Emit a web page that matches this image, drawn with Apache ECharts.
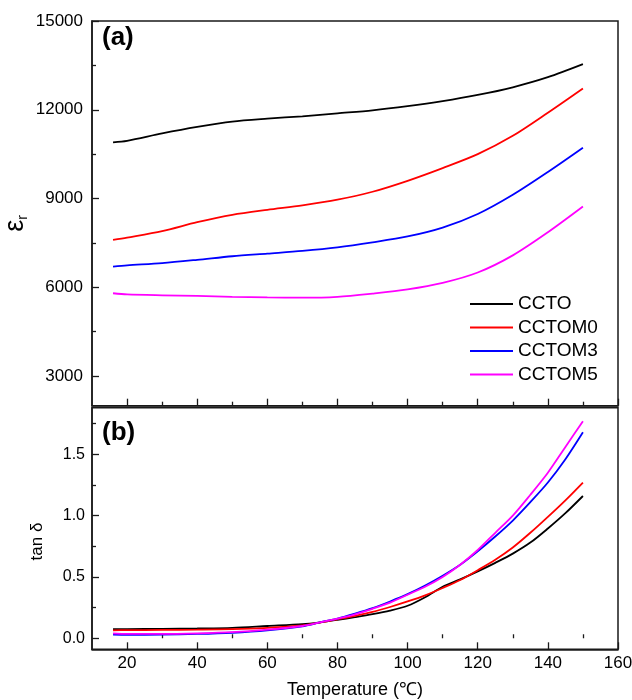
<!DOCTYPE html>
<html>
<head>
<meta charset="utf-8">
<script src="https://cdn.jsdelivr.net/npm/echarts@6/dist/echarts.min.js"></script>
<style>
  html, body { margin: 0; padding: 0; background: #fff; }
  #chart { width: 632px; height: 700px; }
</style>
</head>
<body>
<div id="chart"></div>
<script>
// Dielectric constant (a) and loss tangent (b) versus temperature
const seriesNames = ['CCTO', 'CCTOM0', 'CCTOM3', 'CCTOM5'];
const seriesColors = ['#000000', '#ff0000', '#0000ff', '#ff00ff'];

// Panel (a): relative permittivity
const tempA = [16, 20, 30, 40, 50, 60, 70, 80, 90, 100, 110, 120, 130, 140, 150];
const epsCCTO   = [10900, 10950, 11200, 11420, 11600, 11700, 11780, 11880, 11980, 12120, 12290, 12500, 12760, 13100, 13540];
const epsCCTOM0 = [7600, 7680, 7900, 8200, 8450, 8620, 8770, 8960, 9230, 9600, 10030, 10500, 11120, 11900, 12720];
const epsCCTOM3 = [6700, 6740, 6820, 6930, 7050, 7140, 7230, 7350, 7520, 7720, 8020, 8480, 9130, 9900, 10720];
const epsCCTOM5 = [5800, 5760, 5730, 5710, 5680, 5660, 5650, 5680, 5790, 5930, 6150, 6500, 7080, 7860, 8730];

// Panel (b): loss tangent
const tempB = [16, 20, 30, 40, 50, 60, 70, 75, 80, 85, 90, 95, 100, 105, 110, 115, 120, 125, 130, 135, 140, 145, 150];
const tanCCTO   = [0.075, 0.075, 0.077, 0.080, 0.085, 0.100, 0.115, 0.130, 0.150, 0.172, 0.196, 0.225, 0.265, 0.335, 0.420, 0.480, 0.545, 0.615, 0.690, 0.780, 0.895, 1.020, 1.160];
const tanCCTOM0 = [0.065, 0.066, 0.068, 0.070, 0.074, 0.085, 0.105, 0.128, 0.155, 0.183, 0.215, 0.255, 0.300, 0.350, 0.410, 0.475, 0.555, 0.640, 0.740, 0.860, 0.990, 1.125, 1.270];
const tanCCTOM3 = [0.030, 0.028, 0.030, 0.035, 0.045, 0.065, 0.098, 0.130, 0.160, 0.200, 0.245, 0.300, 0.360, 0.430, 0.510, 0.600, 0.710, 0.830, 0.960, 1.110, 1.270, 1.460, 1.680];
const tanCCTOM5 = [0.040, 0.035, 0.035, 0.040, 0.050, 0.070, 0.100, 0.130, 0.160, 0.195, 0.240, 0.290, 0.355, 0.420, 0.500, 0.600, 0.720, 0.860, 1.000, 1.170, 1.350, 1.560, 1.770];

// Tick positions
const xMajor = [20, 40, 60, 80, 100, 120, 140, 160];
const xMinor = [30, 50, 70, 90, 110, 130, 150];
const yaMajor = [3000, 6000, 9000, 12000, 15000];
const yaMinor = [4500, 7500, 10500, 13500];
const ybMajor = [0, 0.5, 1.0, 1.5];
const ybMinor = [0.25, 0.75, 1.25, 1.75];

const FONT = 'Liberation Sans, Arial, Helvetica, sans-serif';
const AXIS_COLOR = '#1a1a1a';

function pairs(xs, ys) {
  return xs.map((x, i) => [x, ys[i]]);
}

function xAxisPair(gridIndex, withLabels, extra) {
  return [
    Object.assign({
      type: 'value', gridIndex, position: 'bottom', min: 10, max: 160,
      axisLine: { show: true, onZero: false, lineStyle: { color: AXIS_COLOR, width: 1.5 } },
      axisTick: { show: true, inside: true, length: 7, customValues: xMajor, lineStyle: { color: AXIS_COLOR, width: 1.3 } },
      axisLabel: { show: withLabels, customValues: xMajor, margin: 6, fontSize: 17, color: '#000', fontFamily: FONT, formatter: v => String(v) },
      splitLine: { show: false }
    }, extra || {}),
    {
      type: 'value', gridIndex, position: 'bottom', min: 10, max: 160,
      axisLine: { show: false },
      axisTick: { show: true, inside: true, length: 4, customValues: xMinor, lineStyle: { color: AXIS_COLOR, width: 1.3 } },
      axisLabel: { show: false },
      splitLine: { show: false }
    }
  ];
}

function yAxisPair(gridIndex, min, max, major, minor, labelOpts, extra) {
  return [
    Object.assign({
      type: 'value', gridIndex, position: 'left', min, max,
      axisLine: { show: true, onZero: false, lineStyle: { color: AXIS_COLOR, width: 1.5 } },
      axisTick: { show: true, inside: true, length: 7, customValues: major, lineStyle: { color: AXIS_COLOR, width: 1.3 } },
      axisLabel: Object.assign({ customValues: major, color: '#000', fontFamily: FONT }, labelOpts),
      splitLine: { show: false }
    }, extra || {}),
    {
      type: 'value', gridIndex, position: 'left', min, max,
      axisLine: { show: false },
      axisTick: { show: true, inside: true, length: 4, customValues: minor, lineStyle: { color: AXIS_COLOR, width: 1.3 } },
      axisLabel: { show: false },
      splitLine: { show: false }
    }
  ];
}

const chart = echarts.init(document.getElementById('chart'), null, { renderer: 'canvas' });

const series = [];
const epsSets = [epsCCTO, epsCCTOM0, epsCCTOM3, epsCCTOM5];
const tanSets = [tanCCTO, tanCCTOM0, tanCCTOM3, tanCCTOM5];
seriesNames.forEach((name, i) => {
  series.push({
    name, type: 'line', xAxisIndex: 0, yAxisIndex: 0,
    data: pairs(tempA, epsSets[i]),
    showSymbol: false, smooth: 0.3,
    lineStyle: { color: seriesColors[i], width: 1.8 },
    itemStyle: { color: seriesColors[i] },
    animation: false
  });
});
seriesNames.forEach((name, i) => {
  series.push({
    name, type: 'line', xAxisIndex: 2, yAxisIndex: 2,
    data: pairs(tempB, tanSets[i]),
    showSymbol: false, smooth: 0.3,
    lineStyle: { color: seriesColors[i], width: 1.8 },
    itemStyle: { color: seriesColors[i] },
    animation: false
  });
});

chart.setOption({
  animation: false,
  backgroundColor: '#ffffff',
  textStyle: { fontFamily: FONT },
  title: [
    { text: '(a)', left: 102, top: 25, padding: 0, textStyle: { fontSize: 26, fontWeight: 'bold', color: '#000', fontFamily: FONT } },
    { text: '(b)', left: 102, top: 420, padding: 0, textStyle: { fontSize: 26, fontWeight: 'bold', color: '#000', fontFamily: FONT } }
  ],
  legend: {
    data: seriesNames,
    orient: 'vertical',
    left: 470, top: 293,
    icon: 'rect', itemWidth: 43, itemHeight: 2, itemGap: 1.5,
    padding: 0,
    textStyle: { fontSize: 19, lineHeight: 22, color: '#000', fontFamily: FONT }
  },
  grid: [
    { left: 92, right: 14, top: 21, height: 384.7, show: true, borderColor: AXIS_COLOR, borderWidth: 1.5, outerBoundsMode: 'none' },
    { left: 92, right: 14, top: 407.7, height: 241.6, show: true, borderColor: AXIS_COLOR, borderWidth: 1.5, outerBoundsMode: 'none' }
  ],
  xAxis: [
    ...xAxisPair(0, false),
    ...xAxisPair(1, true, {
      name: 'Temperature (\u2103)', nameLocation: 'middle', nameGap: 32,
      nameTextStyle: { fontSize: 18, color: '#000', fontFamily: FONT }
    })
  ],
  yAxis: [
    ...yAxisPair(0, 2000, 15000, yaMajor, yaMinor, { fontSize: 17, margin: 9, formatter: v => String(v) }, {
      name: '{e|\u03b5}{r|r}', nameLocation: 'middle', nameRotate: 90, nameGap: 62,
      nameMoveOverlap: false,
      nameTextStyle: {
        fontSize: 26, color: '#000', fontFamily: FONT, padding: [0, 20, 0, 0],
        rich: {
          e: { fontSize: 27, lineHeight: 28, color: '#000', fontFamily: FONT },
          r: { fontSize: 14, lineHeight: 14, verticalAlign: 'bottom', color: '#000', fontFamily: FONT }
        }
      }
    }),
    ...yAxisPair(1, -0.09, 1.88, ybMajor, ybMinor, {
      fontSize: 16, margin: 7, formatter: v => v.toFixed(1)
    }, {
      name: 'tan \u03b4', nameLocation: 'middle', nameRotate: 90, nameGap: 46,
      nameTextStyle: { fontSize: 17, color: '#000', fontFamily: FONT, padding: [0, 26, 0, 0] }
    })
  ],
  series
});
</script>
</body>
</html>
